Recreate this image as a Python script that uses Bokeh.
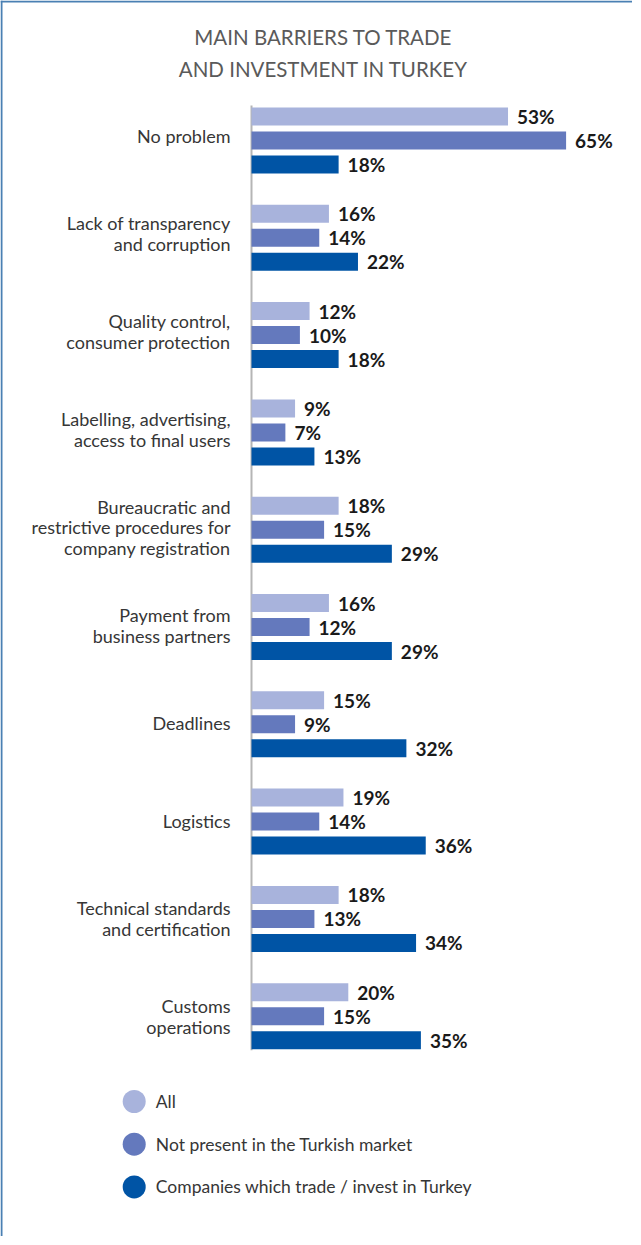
from bokeh.plotting import figure
from bokeh.models import Range1d, Span
from bokeh.core.properties import value
from bokeh.embed import file_html
from bokeh.resources import INLINE

# ---------------- data ----------------
categories = [
    "No problem",
    "Lack of transparency\nand corruption",
    "Quality control,\nconsumer protection",
    "Labelling, advertising,\naccess to final users",
    "Bureaucratic and\nrestrictive procedures for\ncompany registration",
    "Payment from\nbusiness partners",
    "Deadlines",
    "Logistics",
    "Technical standards\nand certification",
    "Customs\noperations",
]
series_names = [
    "All",
    "Not present in the Turkish market",
    "Companies which trade / invest in Turkey",
]
all_vals = [53, 16, 12, 9, 18, 16, 15, 19, 18, 20]
not_present_vals = [65, 14, 10, 7, 15, 12, 9, 14, 13, 15]
trade_vals = [18, 22, 18, 13, 29, 29, 32, 36, 34, 35]
title_lines = ["MAIN BARRIERS TO TRADE", "AND INVESTMENT IN TURKEY"]

# ---------------- styling / layout ----------------
series_values = [all_vals, not_present_vals, trade_vals]
series_colors = ["#a8b3dc", "#6479bd", "#0054a5"]

W, H = 632, 1236
SCALE = 4.84          # px per percent
ORIGIN = 251          # px where 0 % sits
FIRST = 116           # centre of first bar (px from top)
GROUP_PITCH = 97.3
LABEL_PITCH = 97.85
BAR_STEP = 24
BAR_H = 18


def dx(px):
    return (px - ORIGIN) / SCALE


p = figure(width=W, height=H, x_range=Range1d(dx(0), dx(W)), y_range=Range1d(H, 0),
           output_backend="svg", toolbar_location=None, min_border=0)
p.axis.visible = False
p.grid.visible = False
p.outline_line_color = None
p.background_fill_color = "white"
p.border_fill_color = "white"

# frame lines (left / top)
p.add_layout(Span(location=dx(1), dimension="height", line_color="#4a80b3", line_width=2))
p.add_layout(Span(location=1, dimension="width", line_color="#4a80b3", line_width=2))

# axis line
n = len(categories)
p.segment(x0=[0], y0=[FIRST - 11], x1=[0], y1=[FIRST + (n - 1) * GROUP_PITCH + 2 * BAR_STEP + 10],
          line_color="#b5b5b5", line_width=2)

# bars + value labels
for s, (vals, col) in enumerate(zip(series_values, series_colors)):
    ys = [FIRST + g * GROUP_PITCH + s * BAR_STEP for g in range(n)]
    p.hbar(y=ys, left=0, right=vals, height=BAR_H, fill_color=col, line_color=None)
    p.text(x=vals, y=ys, text=[f"{v}%" for v in vals], x_offset=9,
           text_align="left", text_baseline="middle",
           text_font=value("Lato"), text_font_style="bold", text_font_size="19px",
           text_color="#1a1a1a")

# category labels
label_y = [FIRST + BAR_STEP - 4.5 + g * LABEL_PITCH for g in range(n)]
p.text(x=0, y=label_y, text=categories, x_offset=-21,
       text_align="right", text_baseline="middle", text_line_height=0.95,
       text_font=value("Lato"), text_font_size="18px", text_color="#363636")

# title
p.text(x=[dx(323)] * 2, y=[36.5, 68.2], text=title_lines, text_align="center",
       text_baseline="alphabetic", text_font=value("Lato"), text_font_size="20.5px",
       text_color="#5a5a5a")

# legend
LEG_Y0, LEG_STEP = 1101, 42.7
ly = [LEG_Y0 + i * LEG_STEP for i in range(len(series_names))]
p.scatter(x=[dx(133.7)] * 3, y=ly, size=23, marker="circle", fill_color=series_colors, line_color=None)
p.text(x=[dx(155.3)] * 3, y=ly, text=series_names, text_align="left", text_baseline="middle",
       text_font=value("Lato"), text_font_size="17.5px", text_color="#363636")

open("out.html", "w").write(file_html(p, INLINE))
